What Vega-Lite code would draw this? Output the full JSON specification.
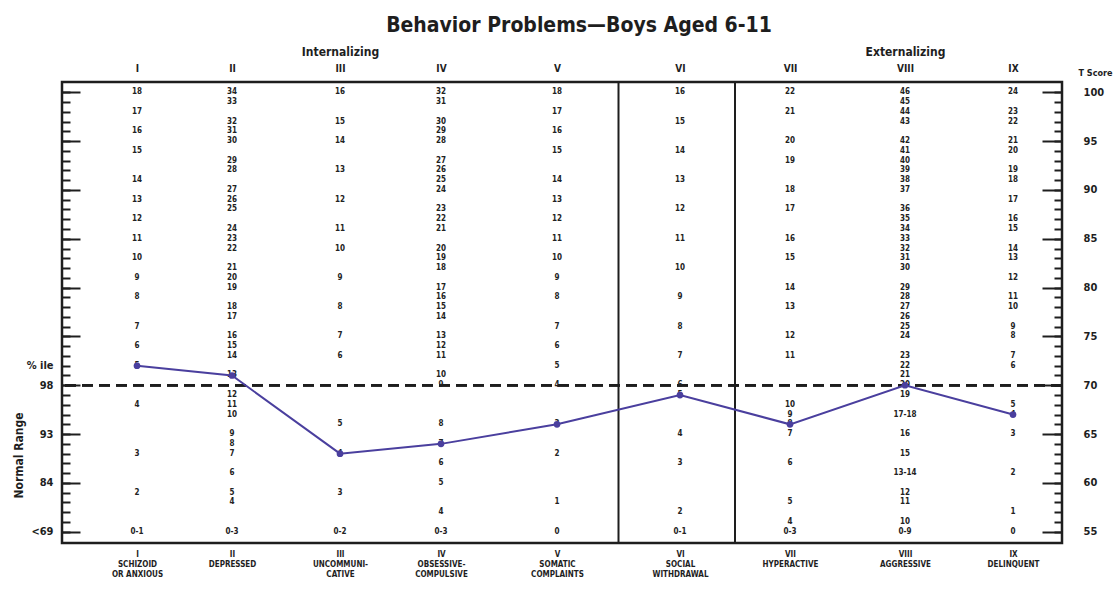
{
  "$schema": "https://vega.github.io/schema/vega-lite/v6.json",
  "width": 1000,
  "height": 461,
  "autosize": {"type": "none"},
  "padding": {"left": 62, "top": 82, "right": 52, "bottom": 65},
  "background": "white",
  "config": {
    "view": {"stroke": "#1e1e1e", "strokeWidth": 2.5},
    "font": "Liberation Sans Narrow, DejaVu Sans Condensed, sans-serif",
    "axis": {"labelFont": "Liberation Sans Narrow, DejaVu Sans Condensed, sans-serif", "titleFont": "Liberation Sans Narrow, DejaVu Sans Condensed, sans-serif", "labelFontWeight": "bold", "labelColor": "#1e1e1e", "titleColor": "#1e1e1e", "domain": false, "grid": false, "tickColor": "#1e1e1e", "labelFlush": false, "labelOverlap": false}
  },
  "title": {"text": "Behavior Problems\u2014Boys Aged 6-11", "font": "Liberation Sans Narrow, DejaVu Sans Condensed, sans-serif", "fontSize": 21, "fontWeight": "bold", "color": "#1e1e1e", "anchor": "middle", "dx": 17, "offset": 9},
  "datasets": {
    "raw": [
      {"col": 1, "t": 100, "raw": "18"}, {"col": 1, "t": 98, "raw": "17"}, {"col": 1, "t": 96, "raw": "16"}, {"col": 1, "t": 94, "raw": "15"}, {"col": 1, "t": 91, "raw": "14"}, {"col": 1, "t": 89, "raw": "13"}, {"col": 1, "t": 87, "raw": "12"}, {"col": 1, "t": 85, "raw": "11"}, {"col": 1, "t": 83, "raw": "10"}, {"col": 1, "t": 81, "raw": "9"}, {"col": 1, "t": 79, "raw": "8"}, {"col": 1, "t": 76, "raw": "7"}, {"col": 1, "t": 74, "raw": "6"}, {"col": 1, "t": 72, "raw": "5"}, {"col": 1, "t": 68, "raw": "4"}, {"col": 1, "t": 63, "raw": "3"}, {"col": 1, "t": 59, "raw": "2"}, {"col": 1, "t": 55, "raw": "0-1"},
      {"col": 2, "t": 100, "raw": "34"}, {"col": 2, "t": 99, "raw": "33"}, {"col": 2, "t": 97, "raw": "32"}, {"col": 2, "t": 96, "raw": "31"}, {"col": 2, "t": 95, "raw": "30"}, {"col": 2, "t": 93, "raw": "29"}, {"col": 2, "t": 92, "raw": "28"}, {"col": 2, "t": 90, "raw": "27"}, {"col": 2, "t": 89, "raw": "26"}, {"col": 2, "t": 88, "raw": "25"}, {"col": 2, "t": 86, "raw": "24"}, {"col": 2, "t": 85, "raw": "23"}, {"col": 2, "t": 84, "raw": "22"}, {"col": 2, "t": 82, "raw": "21"}, {"col": 2, "t": 81, "raw": "20"}, {"col": 2, "t": 80, "raw": "19"}, {"col": 2, "t": 78, "raw": "18"}, {"col": 2, "t": 77, "raw": "17"}, {"col": 2, "t": 75, "raw": "16"}, {"col": 2, "t": 74, "raw": "15"}, {"col": 2, "t": 73, "raw": "14"}, {"col": 2, "t": 71, "raw": "13"}, {"col": 2, "t": 69, "raw": "12"}, {"col": 2, "t": 68, "raw": "11"}, {"col": 2, "t": 67, "raw": "10"}, {"col": 2, "t": 65, "raw": "9"}, {"col": 2, "t": 64, "raw": "8"}, {"col": 2, "t": 63, "raw": "7"}, {"col": 2, "t": 61, "raw": "6"}, {"col": 2, "t": 59, "raw": "5"}, {"col": 2, "t": 58, "raw": "4"}, {"col": 2, "t": 55, "raw": "0-3"},
      {"col": 3, "t": 100, "raw": "16"}, {"col": 3, "t": 97, "raw": "15"}, {"col": 3, "t": 95, "raw": "14"}, {"col": 3, "t": 92, "raw": "13"}, {"col": 3, "t": 89, "raw": "12"}, {"col": 3, "t": 86, "raw": "11"}, {"col": 3, "t": 84, "raw": "10"}, {"col": 3, "t": 81, "raw": "9"}, {"col": 3, "t": 78, "raw": "8"}, {"col": 3, "t": 75, "raw": "7"}, {"col": 3, "t": 73, "raw": "6"}, {"col": 3, "t": 66, "raw": "5"}, {"col": 3, "t": 63, "raw": "4"}, {"col": 3, "t": 59, "raw": "3"}, {"col": 3, "t": 55, "raw": "0-2"},
      {"col": 4, "t": 100, "raw": "32"}, {"col": 4, "t": 99, "raw": "31"}, {"col": 4, "t": 97, "raw": "30"}, {"col": 4, "t": 96, "raw": "29"}, {"col": 4, "t": 95, "raw": "28"}, {"col": 4, "t": 93, "raw": "27"}, {"col": 4, "t": 92, "raw": "26"}, {"col": 4, "t": 91, "raw": "25"}, {"col": 4, "t": 90, "raw": "24"}, {"col": 4, "t": 88, "raw": "23"}, {"col": 4, "t": 87, "raw": "22"}, {"col": 4, "t": 86, "raw": "21"}, {"col": 4, "t": 84, "raw": "20"}, {"col": 4, "t": 83, "raw": "19"}, {"col": 4, "t": 82, "raw": "18"}, {"col": 4, "t": 80, "raw": "17"}, {"col": 4, "t": 79, "raw": "16"}, {"col": 4, "t": 78, "raw": "15"}, {"col": 4, "t": 77, "raw": "14"}, {"col": 4, "t": 75, "raw": "13"}, {"col": 4, "t": 74, "raw": "12"}, {"col": 4, "t": 73, "raw": "11"}, {"col": 4, "t": 71, "raw": "10"}, {"col": 4, "t": 70, "raw": "9"}, {"col": 4, "t": 66, "raw": "8"}, {"col": 4, "t": 64, "raw": "7"}, {"col": 4, "t": 62, "raw": "6"}, {"col": 4, "t": 60, "raw": "5"}, {"col": 4, "t": 57, "raw": "4"}, {"col": 4, "t": 55, "raw": "0-3"},
      {"col": 5, "t": 100, "raw": "18"}, {"col": 5, "t": 98, "raw": "17"}, {"col": 5, "t": 96, "raw": "16"}, {"col": 5, "t": 94, "raw": "15"}, {"col": 5, "t": 91, "raw": "14"}, {"col": 5, "t": 89, "raw": "13"}, {"col": 5, "t": 87, "raw": "12"}, {"col": 5, "t": 85, "raw": "11"}, {"col": 5, "t": 83, "raw": "10"}, {"col": 5, "t": 81, "raw": "9"}, {"col": 5, "t": 79, "raw": "8"}, {"col": 5, "t": 76, "raw": "7"}, {"col": 5, "t": 74, "raw": "6"}, {"col": 5, "t": 72, "raw": "5"}, {"col": 5, "t": 70, "raw": "4"}, {"col": 5, "t": 66, "raw": "3"}, {"col": 5, "t": 63, "raw": "2"}, {"col": 5, "t": 58, "raw": "1"}, {"col": 5, "t": 55, "raw": "0"},
      {"col": 6, "t": 100, "raw": "16"}, {"col": 6, "t": 97, "raw": "15"}, {"col": 6, "t": 94, "raw": "14"}, {"col": 6, "t": 91, "raw": "13"}, {"col": 6, "t": 88, "raw": "12"}, {"col": 6, "t": 85, "raw": "11"}, {"col": 6, "t": 82, "raw": "10"}, {"col": 6, "t": 79, "raw": "9"}, {"col": 6, "t": 76, "raw": "8"}, {"col": 6, "t": 73, "raw": "7"}, {"col": 6, "t": 70, "raw": "6"}, {"col": 6, "t": 69, "raw": "5"}, {"col": 6, "t": 65, "raw": "4"}, {"col": 6, "t": 62, "raw": "3"}, {"col": 6, "t": 57, "raw": "2"}, {"col": 6, "t": 55, "raw": "0-1"},
      {"col": 7, "t": 100, "raw": "22"}, {"col": 7, "t": 98, "raw": "21"}, {"col": 7, "t": 95, "raw": "20"}, {"col": 7, "t": 93, "raw": "19"}, {"col": 7, "t": 90, "raw": "18"}, {"col": 7, "t": 88, "raw": "17"}, {"col": 7, "t": 85, "raw": "16"}, {"col": 7, "t": 83, "raw": "15"}, {"col": 7, "t": 80, "raw": "14"}, {"col": 7, "t": 78, "raw": "13"}, {"col": 7, "t": 75, "raw": "12"}, {"col": 7, "t": 73, "raw": "11"}, {"col": 7, "t": 68, "raw": "10"}, {"col": 7, "t": 67, "raw": "9"}, {"col": 7, "t": 66, "raw": "8"}, {"col": 7, "t": 65, "raw": "7"}, {"col": 7, "t": 62, "raw": "6"}, {"col": 7, "t": 58, "raw": "5"}, {"col": 7, "t": 56, "raw": "4"}, {"col": 7, "t": 55, "raw": "0-3"},
      {"col": 8, "t": 100, "raw": "46"}, {"col": 8, "t": 99, "raw": "45"}, {"col": 8, "t": 98, "raw": "44"}, {"col": 8, "t": 97, "raw": "43"}, {"col": 8, "t": 95, "raw": "42"}, {"col": 8, "t": 94, "raw": "41"}, {"col": 8, "t": 93, "raw": "40"}, {"col": 8, "t": 92, "raw": "39"}, {"col": 8, "t": 91, "raw": "38"}, {"col": 8, "t": 90, "raw": "37"}, {"col": 8, "t": 88, "raw": "36"}, {"col": 8, "t": 87, "raw": "35"}, {"col": 8, "t": 86, "raw": "34"}, {"col": 8, "t": 85, "raw": "33"}, {"col": 8, "t": 84, "raw": "32"}, {"col": 8, "t": 83, "raw": "31"}, {"col": 8, "t": 82, "raw": "30"}, {"col": 8, "t": 80, "raw": "29"}, {"col": 8, "t": 79, "raw": "28"}, {"col": 8, "t": 78, "raw": "27"}, {"col": 8, "t": 77, "raw": "26"}, {"col": 8, "t": 76, "raw": "25"}, {"col": 8, "t": 75, "raw": "24"}, {"col": 8, "t": 73, "raw": "23"}, {"col": 8, "t": 72, "raw": "22"}, {"col": 8, "t": 71, "raw": "21"}, {"col": 8, "t": 70, "raw": "20"}, {"col": 8, "t": 69, "raw": "19"}, {"col": 8, "t": 67, "raw": "17-18"}, {"col": 8, "t": 65, "raw": "16"}, {"col": 8, "t": 63, "raw": "15"}, {"col": 8, "t": 61, "raw": "13-14"}, {"col": 8, "t": 59, "raw": "12"}, {"col": 8, "t": 58, "raw": "11"}, {"col": 8, "t": 56, "raw": "10"}, {"col": 8, "t": 55, "raw": "0-9"},
      {"col": 9, "t": 100, "raw": "24"}, {"col": 9, "t": 98, "raw": "23"}, {"col": 9, "t": 97, "raw": "22"}, {"col": 9, "t": 95, "raw": "21"}, {"col": 9, "t": 94, "raw": "20"}, {"col": 9, "t": 92, "raw": "19"}, {"col": 9, "t": 91, "raw": "18"}, {"col": 9, "t": 89, "raw": "17"}, {"col": 9, "t": 87, "raw": "16"}, {"col": 9, "t": 86, "raw": "15"}, {"col": 9, "t": 84, "raw": "14"}, {"col": 9, "t": 83, "raw": "13"}, {"col": 9, "t": 81, "raw": "12"}, {"col": 9, "t": 79, "raw": "11"}, {"col": 9, "t": 78, "raw": "10"}, {"col": 9, "t": 76, "raw": "9"}, {"col": 9, "t": 75, "raw": "8"}, {"col": 9, "t": 73, "raw": "7"}, {"col": 9, "t": 72, "raw": "6"}, {"col": 9, "t": 68, "raw": "5"}, {"col": 9, "t": 67, "raw": "4"}, {"col": 9, "t": 65, "raw": "3"}, {"col": 9, "t": 61, "raw": "2"}, {"col": 9, "t": 57, "raw": "1"}, {"col": 9, "t": 55, "raw": "0"}
    ],
    "profile": [
      {"col": 1, "t": 72}, {"col": 2, "t": 71}, {"col": 3, "t": 63}, {"col": 4, "t": 64}, {"col": 5, "t": 66}, {"col": 6, "t": 69}, {"col": 7, "t": 66}, {"col": 8, "t": 70}, {"col": 9, "t": 67}
    ]
  },
  "resolve": {"axis": {"x": "independent", "y": "independent"}},
  "layer": [
    {
      "data": {"name": "profile"},
      "mark": {"type": "rule", "strokeDash": [11, 6], "strokeWidth": 2, "color": "#1e1e1e"},
      "encoding": {
        "y": {"datum": 70, "type": "quantitative", "scale": {"domain": [53.85, 101.05], "nice": false, "zero": false},
          "axis": {"orient": "left", "values": [55,56,57,58,59,60,61,62,63,64,65,66,67,68,69,70,71,72,73,74,75,76,77,78,79,80,81,82,83,84,85,86,87,88,89,90,91,92,93,94,95,96,97,98,99,100], "labels": false, "ticks": true, "tickSize": -8, "tickWidth": 2, "domain": false, "title": null}}
      }
    },
    {
      "data": {"values": [{"b": 5.5}, {"b": 6.5}]},
      "mark": {"type": "rule", "strokeWidth": 2, "color": "#1e1e1e"},
      "encoding": {
        "x": {"field": "b", "type": "quantitative", "scale": {"type": "linear", "domain": [0,1,2,3,4,5,6,7,8,9,10], "range": [0,75,170,278,379,495,618,728,843,951,1000], "nice": false, "zero": false},
          "axis": {"orient": "bottom", "values": [1,2,3,4,5,6,7,8,9], "labelExpr": "[[''],['I','SCHIZOID','OR ANXIOUS'],['II','DEPRESSED'],['III','UNCOMMUNI-','CATIVE'],['IV','OBSESSIVE-','COMPULSIVE'],['V','SOMATIC','COMPLAINTS'],['VI','SOCIAL','WITHDRAWAL'],['VII','HYPERACTIVE'],['VIII','AGGRESSIVE'],['IX','DELINQUENT']][datum.value]", "ticks": false, "domain": false, "labelPadding": 7, "labelFontSize": 8, "labelLineHeight": 10, "labelAngle": 0, "labelBaseline": "top", "title": null}}
      }
    },
    {
      "data": {"name": "raw"},
      "mark": {"type": "text", "fontSize": 8, "fontWeight": "bold", "color": "#222222", "baseline": "middle", "font": "Liberation Sans Narrow, DejaVu Sans Condensed, sans-serif"},
      "encoding": {
        "x": {"field": "col", "type": "quantitative", "scale": {"type": "linear", "domain": [0,1,2,3,4,5,6,7,8,9,10], "range": [0,75,170,278,379,495,618,728,843,951,1000], "nice": false, "zero": false},
          "axis": {"orient": "top", "values": [1,2,3,4,5,6,7,8,9], "labelExpr": "['','I','II','III','IV','V','VI','VII','VIII','IX',''][datum.value]", "ticks": false, "domain": false, "labelPadding": 9, "labelFontSize": 10, "labelAngle": 0, "title": null}},
        "y": {"field": "t", "type": "quantitative", "scale": {"domain": [53.85, 101.05], "nice": false, "zero": false},
          "axis": {"orient": "left", "values": [55, 60, 65, 70, 72], "labelExpr": "datum.value == 72 ? '% ile' : datum.value == 70 ? '98' : datum.value == 65 ? '93' : datum.value == 60 ? '84' : '<69'", "ticks": false, "domain": false, "labelPadding": 9, "labelFontSize": 11, "labelBaseline": "middle", "title": "Normal Range", "titleFontSize": 12, "titleFontWeight": "bold", "titleAngle": -90, "titleX": -44, "titleY": 373, "titleAlign": "center", "titleBaseline": "middle"}},
        "text": {"field": "raw", "type": "nominal"}
      }
    },
    {
      "data": {"name": "profile"},
      "mark": {"type": "line", "color": "#4a3f9e", "strokeWidth": 2},
      "encoding": {
        "x": {"field": "col", "type": "quantitative", "scale": {"type": "linear", "domain": [0,1,2,3,4,5,6,7,8,9,10], "range": [0,75,170,278,379,495,618,728,843,951,1000], "nice": false, "zero": false},
          "axis": {"orient": "top", "values": [3, 8], "labelExpr": "datum.value == 3 ? 'Internalizing' : 'Externalizing'", "ticks": false, "domain": false, "labelPadding": 24, "labelFontSize": 12, "labelAngle": 0, "title": null}},
        "y": {"field": "t", "type": "quantitative", "scale": {"domain": [53.85, 101.05], "nice": false, "zero": false},
          "axis": {"orient": "right", "values": [55, 60, 65, 70, 75, 80, 85, 90, 95, 100], "ticks": false, "domain": false, "labelPadding": 21, "labelFontSize": 11, "labelAlign": "left", "labelBaseline": "middle", "title": "T Score", "titleFontSize": 9, "titleFontWeight": "bold", "titleAngle": 0, "titleX": 16, "titleY": -10, "titleAlign": "left", "titleBaseline": "middle"}}
      }
    },
    {
      "data": {"name": "profile"},
      "mark": {"type": "point", "filled": true, "color": "#4a3f9e", "size": 45, "opacity": 1},
      "encoding": {
        "x": {"field": "col", "type": "quantitative", "scale": {"type": "linear", "domain": [0,1,2,3,4,5,6,7,8,9,10], "range": [0,75,170,278,379,495,618,728,843,951,1000], "nice": false, "zero": false}, "axis": null},
        "y": {"field": "t", "type": "quantitative", "scale": {"domain": [53.85, 101.05], "nice": false, "zero": false},
          "axis": {"orient": "right", "values": [55,56,57,58,59,60,61,62,63,64,65,66,67,68,69,70,71,72,73,74,75,76,77,78,79,80,81,82,83,84,85,86,87,88,89,90,91,92,93,94,95,96,97,98,99,100], "labels": false, "ticks": true, "tickSize": -8, "tickWidth": 2, "domain": false, "title": null}}
      }
    },
    {
      "data": {"name": "profile"},
      "mark": {"type": "point", "opacity": 0},
      "encoding": {
        "x": {"field": "col", "type": "quantitative", "scale": {"type": "linear", "domain": [0,1,2,3,4,5,6,7,8,9,10], "range": [0,75,170,278,379,495,618,728,843,951,1000], "nice": false, "zero": false}, "axis": null},
        "y": {"field": "t", "type": "quantitative", "scale": {"domain": [53.85, 101.05], "nice": false, "zero": false},
          "axis": {"orient": "left", "values": [55, 60, 65, 70, 75, 80, 85, 90, 95, 100], "labels": false, "ticks": true, "tickSize": -18, "tickWidth": 2, "domain": false, "title": null}}
      }
    },
    {
      "data": {"name": "profile"},
      "mark": {"type": "point", "opacity": 0},
      "encoding": {
        "x": {"field": "col", "type": "quantitative", "scale": {"type": "linear", "domain": [0,1,2,3,4,5,6,7,8,9,10], "range": [0,75,170,278,379,495,618,728,843,951,1000], "nice": false, "zero": false}, "axis": null},
        "y": {"field": "t", "type": "quantitative", "scale": {"domain": [53.85, 101.05], "nice": false, "zero": false},
          "axis": {"orient": "right", "values": [55, 60, 65, 70, 75, 80, 85, 90, 95, 100], "labels": false, "ticks": true, "tickSize": -20, "tickWidth": 2, "domain": false, "title": null}}
      }
    }
  ]
}
